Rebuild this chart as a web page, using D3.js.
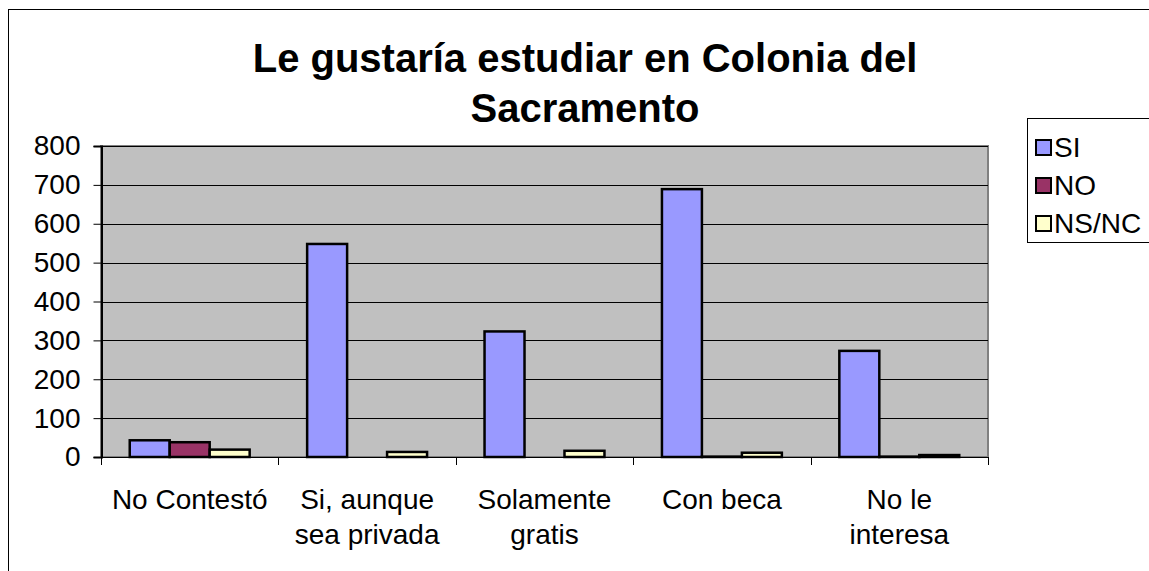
<!DOCTYPE html>
<html><head><meta charset="utf-8">
<script src="https://cdn.jsdelivr.net/npm/d3@7"></script>
<style>body{margin:0;background:#fff}svg{display:block}text{font-family:"Liberation Sans",Arial,sans-serif}</style>
</head><body><svg id="c" width="1149" height="571"></svg>
<script>
const categories = [["No Contestó"], ["Si, aunque","sea privada"], ["Solamente","gratis"], ["Con beca"], ["No le","interesa"]];
const seriesNames = ["SI", "NO", "NS/NC"];
const seriesColors = ["#9999FF", "#993366", "#FFFFCC"];
const valuesSI = [43, 548, 323, 689, 273];
const valuesNO = [38, 0, 0, 1, 1];
const valuesNSNC = [19, 13, 16, 11, 5];
const yTicks = [0, 100, 200, 300, 400, 500, 600, 700, 800];
const titleLines = ["Le gustaría estudiar en Colonia del", "Sacramento"];

const FONT = "'Liberation Sans',Arial,sans-serif";
const svg = d3.select("#c");
svg.append("rect").attr("x",8.5).attr("y",9.5).attr("width",1200).attr("height",700)
  .attr("fill","#fff").attr("stroke","#000").attr("stroke-width",1);

const L=101, R=988, T=146, B=457;
const y = d3.scaleLinear().domain([0,800]).range([B,T]);
const x0 = d3.scaleBand().domain(d3.range(categories.length)).range([L,R]).paddingInner(0).paddingOuter(0);
const bw = x0.bandwidth();
const groupW = bw*0.676;
const x1 = d3.scaleBand().domain(d3.range(3)).range([0,groupW]);

svg.append("rect").attr("x",L).attr("y",T).attr("width",R-L).attr("height",B-T)
  .attr("fill","#C0C0C0").attr("stroke","#808080").attr("stroke-width",2);

// gridlines
svg.append("g").selectAll("line").data(yTicks.filter(d=>d>0)).join("line")
  .attr("x1",L).attr("x2",R).attr("y1",d=>Math.round(y(d))+0.5).attr("y2",d=>Math.round(y(d))+0.5)
  .attr("stroke","#000").attr("stroke-width",1);

// y axis
const yAxis = d3.axisLeft(y).tickValues(yTicks).tickSize(8).tickPadding(13);
const gy = svg.append("g").attr("transform",`translate(${L+0.5},0)`).call(yAxis)
  .attr("font-size",28).attr("font-family",FONT);
gy.select(".domain").attr("stroke","#000").attr("stroke-width",2);
gy.selectAll(".tick line").attr("stroke","#000");
gy.selectAll("text").attr("fill","#000");

// bars
const data = [valuesSI, valuesNO, valuesNSNC];
const g = svg.append("g");
categories.forEach((c,i)=>{
  const gx = x0(i) + (bw-groupW)/2;
  data.forEach((vals,s)=>{
    const v = vals[i];
    g.append("rect").attr("x",gx+x1(s)).attr("y",y(v)).attr("width",x1.bandwidth())
      .attr("height",Math.max(0,B-y(v))).attr("fill",seriesColors[s]).attr("stroke","#000").attr("stroke-width",2.5);
  });
});

// x axis
const gx = svg.append("g");
gx.append("line").attr("x1",L).attr("x2",R).attr("y1",B+0.5).attr("y2",B+0.5).attr("stroke","#000").attr("stroke-width",1);
d3.range(categories.length+1).forEach(i=>{
  const xx = Math.round(L + i*bw)+0.5;
  gx.append("line").attr("x1",xx).attr("x2",xx).attr("y1",B).attr("y2",B+8).attr("stroke","#000");
});
categories.forEach((c,i)=>{
  const t = gx.append("text").attr("x",x0(i)+bw/2).attr("y",509).attr("text-anchor","middle").attr("font-size",28).attr("fill","#000");
  c.forEach((ln,j)=>t.append("tspan").attr("x",x0(i)+bw/2).attr("dy",j===0?0:35).text(ln));
});

// title
const tt = svg.append("text").attr("x",585).attr("y",72).attr("text-anchor","middle").attr("font-size",40).attr("font-weight","bold").attr("fill","#000");
titleLines.forEach((ln,j)=>tt.append("tspan").attr("x",585).attr("dy",j===0?0:50).text(ln));

// legend
const lg = svg.append("g");
lg.append("rect").attr("x",1027.5).attr("y",118.5).attr("width",140).attr("height",124).attr("fill","#fff").attr("stroke","#000");
seriesNames.forEach((n,i)=>{
  const base = 157 + i*38;
  lg.append("rect").attr("x",1036).attr("y",base-17).attr("width",15).attr("height",15).attr("fill",seriesColors[i]).attr("stroke","#000").attr("stroke-width",2);
  lg.append("text").attr("x",1054).attr("y",base).attr("font-size",28).attr("fill","#000").text(n);
});
</script></body></html>
